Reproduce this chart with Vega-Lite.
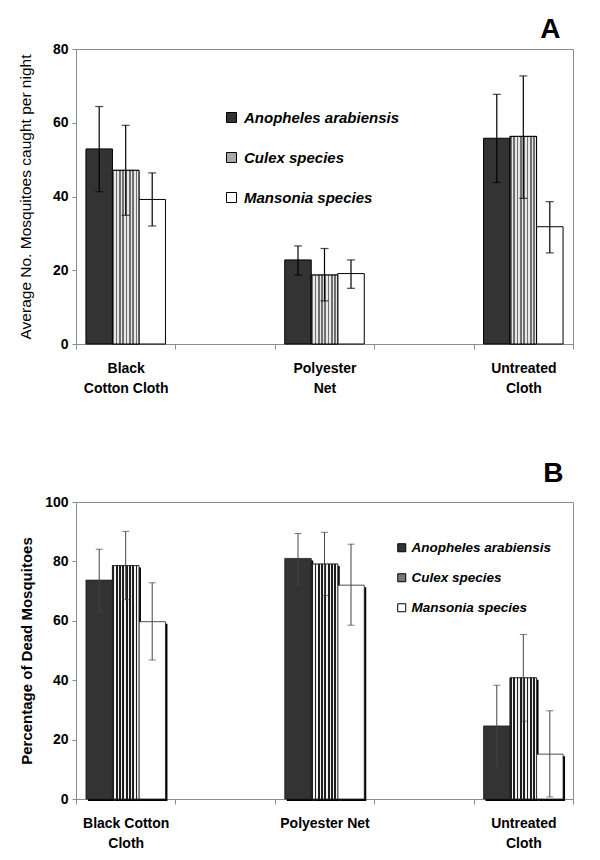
{
  "$schema": "https://vega.github.io/schema/vega-lite/v6.json",
  "background": "white",
  "padding": {"left": 17, "top": 15, "right": 5, "bottom": 5},
  "config": {
    "font": "Liberation Sans",
    "view": {"stroke": "#8c8c8c", "strokeWidth": 1},
    "axis": {"domainColor": "#8c8c8c", "tickColor": "#8c8c8c", "grid": false, "labelFont": "Liberation Sans", "labelFontWeight": "bold", "labelFontSize": 14, "labelColor": "black", "titleColor": "black", "titleFont": "Liberation Sans"},
    "title": {"fontSize": 28, "fontWeight": "bold", "anchor": "end", "color": "black", "font": "Liberation Sans"}
  },
  "datasets": {
    "a": [
      {"cloth": "Black Cotton Cloth", "species": "Anopheles arabiensis", "mean": 52.9, "lo": 41.3, "hi": 64.4},
      {"cloth": "Black Cotton Cloth", "species": "Culex species", "mean": 47.1, "lo": 34.9, "hi": 59.3},
      {"cloth": "Black Cotton Cloth", "species": "Mansonia species", "mean": 39.2, "lo": 32.0, "hi": 46.4},
      {"cloth": "Polyester Net", "species": "Anopheles arabiensis", "mean": 22.8, "lo": 18.7, "hi": 26.6},
      {"cloth": "Polyester Net", "species": "Culex species", "mean": 18.7, "lo": 11.7, "hi": 25.9},
      {"cloth": "Polyester Net", "species": "Mansonia species", "mean": 19.1, "lo": 15.1, "hi": 22.8},
      {"cloth": "Untreated Cloth", "species": "Anopheles arabiensis", "mean": 55.8, "lo": 43.8, "hi": 67.7},
      {"cloth": "Untreated Cloth", "species": "Culex species", "mean": 56.3, "lo": 39.5, "hi": 72.7},
      {"cloth": "Untreated Cloth", "species": "Mansonia species", "mean": 31.8, "lo": 24.7, "hi": 38.6}
    ],
    "b": [
      {"cloth": "Black Cotton Cloth", "species": "Anopheles arabiensis", "mean": 73.7, "lo": 63.0, "hi": 84.1},
      {"cloth": "Black Cotton Cloth", "species": "Culex species", "mean": 78.6, "lo": 67.1, "hi": 90.1},
      {"cloth": "Black Cotton Cloth", "species": "Mansonia species", "mean": 59.7, "lo": 46.8, "hi": 72.8},
      {"cloth": "Polyester Net", "species": "Anopheles arabiensis", "mean": 81.0, "lo": 72.0, "hi": 89.4},
      {"cloth": "Polyester Net", "species": "Culex species", "mean": 79.1, "lo": 68.5, "hi": 89.8},
      {"cloth": "Polyester Net", "species": "Mansonia species", "mean": 72.0, "lo": 58.5, "hi": 85.8},
      {"cloth": "Untreated Cloth", "species": "Anopheles arabiensis", "mean": 24.6, "lo": 11.0, "hi": 38.3},
      {"cloth": "Untreated Cloth", "species": "Culex species", "mean": 40.8, "lo": 26.2, "hi": 55.4},
      {"cloth": "Untreated Cloth", "species": "Mansonia species", "mean": 15.1, "lo": 0.7, "hi": 29.7}
    ]
  },
  "columns": 1,
  "spacing": 63,
  "resolve": {"scale": {"fill": "independent"}, "legend": {"fill": "independent"}},
  "concat": [
    {
      "width": 497,
      "height": 295,
      "title": {"text": "A", "dx": -13, "offset": -2},
      "data": {"name": "a"},
      "encoding": {
        "x": {"field": "cloth", "type": "nominal", "scale": {"domain": ["Black Cotton Cloth", "gap1", "Polyester Net", "gap2", "Untreated Cloth"], "paddingInner": 0, "paddingOuter": 0},
          "axis": {"title": null, "labelAngle": 0, "tickBand": "extent", "tickSize": 5, "labelPadding": 12, "labelLineHeight": 20,
            "labelExpr": "datum.value == 'Black Cotton Cloth' ? ['Black', 'Cotton Cloth'] : datum.value == 'Polyester Net' ? ['Polyester', 'Net'] : datum.value == 'Untreated Cloth' ? ['Untreated', 'Cloth'] : ''"}},
        "xOffset": {"field": "species", "type": "nominal", "scale": {"domain": ["Anopheles arabiensis", "Culex species", "Mansonia species"], "paddingInner": 0, "paddingOuter": 0.375}}
      },
      "layer": [
        {
          "mark": {"type": "bar", "stroke": "black", "strokeWidth": 1},
          "encoding": {
            "y": {"field": "mean", "type": "quantitative", "title": "Average No. Mosquitoes caught  per night", "scale": {"domain": [0, 80]},
              "axis": {"values": [0, 20, 40, 60, 80], "tickSize": 4, "labelPadding": 4, "titlePadding": 19, "titleFontSize": 15.5, "titleFontWeight": "normal"}},
            "fill": {"field": "species", "type": "nominal",
              "scale": {"domain": ["Anopheles arabiensis", "Culex species", "Mansonia species"], "range": ["#333333", "#a8a8a8", "#ffffff"]},
              "legend": {"title": null, "orient": "none", "legendX": 148, "legendY": 61, "symbolType": "square", "symbolSize": 100, "symbolStrokeColor": "black", "symbolStrokeWidth": 1, "symbolOpacity": 1, "labelFontSize": 15, "labelFontStyle": "italic", "labelFontWeight": "bold", "labelColor": "black", "labelOffset": 5, "rowPadding": 24, "labelLimit": 300}}
          }
        },
        {
          "transform": [{"filter": "datum.species == 'Culex species'"}],
          "mark": {"type": "bar", "stroke": "black", "strokeWidth": 1,
            "fill": {"gradient": "linear", "x1": 0, "y1": 0, "x2": 1, "y2": 0, "stops": [
              {"offset": 0, "color": "#707070"}, {"offset": 0.0625, "color": "#707070"}, {"offset": 0.0625, "color": "#e6e6e6"}, {"offset": 0.125, "color": "#e6e6e6"},
              {"offset": 0.125, "color": "#707070"}, {"offset": 0.1875, "color": "#707070"}, {"offset": 0.1875, "color": "#e6e6e6"}, {"offset": 0.25, "color": "#e6e6e6"},
              {"offset": 0.25, "color": "#707070"}, {"offset": 0.3125, "color": "#707070"}, {"offset": 0.3125, "color": "#e6e6e6"}, {"offset": 0.375, "color": "#e6e6e6"},
              {"offset": 0.375, "color": "#707070"}, {"offset": 0.4375, "color": "#707070"}, {"offset": 0.4375, "color": "#e6e6e6"}, {"offset": 0.5, "color": "#e6e6e6"},
              {"offset": 0.5, "color": "#707070"}, {"offset": 0.5625, "color": "#707070"}, {"offset": 0.5625, "color": "#e6e6e6"}, {"offset": 0.625, "color": "#e6e6e6"},
              {"offset": 0.625, "color": "#707070"}, {"offset": 0.6875, "color": "#707070"}, {"offset": 0.6875, "color": "#e6e6e6"}, {"offset": 0.75, "color": "#e6e6e6"},
              {"offset": 0.75, "color": "#707070"}, {"offset": 0.8125, "color": "#707070"}, {"offset": 0.8125, "color": "#e6e6e6"}, {"offset": 0.875, "color": "#e6e6e6"},
              {"offset": 0.875, "color": "#707070"}, {"offset": 0.9375, "color": "#707070"}, {"offset": 0.9375, "color": "#e6e6e6"}, {"offset": 1, "color": "#e6e6e6"}]}},
          "encoding": {"y": {"field": "mean", "type": "quantitative", "title": "Average No. Mosquitoes caught  per night"}}
        },
        {
          "mark": {"type": "rule", "color": "black", "strokeWidth": 1.2},
          "encoding": {"y": {"field": "lo", "type": "quantitative", "title": "Average No. Mosquitoes caught  per night"}, "y2": {"field": "hi"}}
        },
        {
          "mark": {"type": "tick", "color": "black", "thickness": 1.2, "size": 8},
          "encoding": {"y": {"field": "lo", "type": "quantitative", "title": "Average No. Mosquitoes caught  per night"}}
        },
        {
          "mark": {"type": "tick", "color": "black", "thickness": 1.2, "size": 8},
          "encoding": {"y": {"field": "hi", "type": "quantitative", "title": "Average No. Mosquitoes caught  per night"}}
        }
      ]
    },
    {
      "width": 497,
      "height": 297,
      "title": {"text": "B", "dx": -10, "offset": 7},
      "data": {"name": "b"},
      "encoding": {
        "x": {"field": "cloth", "type": "nominal", "scale": {"domain": ["Black Cotton Cloth", "gap1", "Polyester Net", "gap2", "Untreated Cloth"], "paddingInner": 0, "paddingOuter": 0},
          "axis": {"title": null, "labelAngle": 0, "tickBand": "extent", "tickSize": 5, "labelPadding": 12, "labelLineHeight": 20,
            "labelExpr": "datum.value == 'Black Cotton Cloth' ? ['Black Cotton', 'Cloth'] : datum.value == 'Polyester Net' ? 'Polyester Net' : datum.value == 'Untreated Cloth' ? ['Untreated', 'Cloth'] : ''"}}
      },
      "resolve": {"scale": {"xOffset": "independent"}},
      "layer": [
        {
          "mark": {"type": "bar", "fill": "black", "yOffset": 2, "y2Offset": 0},
          "encoding": {
            "xOffset": {"field": "species", "type": "nominal", "scale": {"domain": ["Anopheles arabiensis", "Culex species", "Mansonia species"], "paddingInner": 0, "paddingOuter": 0.375, "align": 0.6}},
            "y": {"field": "mean", "type": "quantitative", "title": "Percentage of Dead Mosquitoes", "scale": {"domain": [0, 100]},
              "axis": {"values": [0, 20, 40, 60, 80, 100], "tickSize": 4, "labelPadding": 4, "titlePadding": 10, "titleFontSize": 15, "titleFontWeight": "bold"}}
          }
        },
        {
          "encoding": {
            "xOffset": {"field": "species", "type": "nominal", "scale": {"domain": ["Anopheles arabiensis", "Culex species", "Mansonia species"], "paddingInner": 0, "paddingOuter": 0.375}}
          },
          "layer": [
            {
              "mark": {"type": "bar", "stroke": "#222222", "strokeWidth": 0.8},
              "encoding": {
                "y": {"field": "mean", "type": "quantitative", "title": "Percentage of Dead Mosquitoes"},
                "fill": {"field": "species", "type": "nominal",
                  "scale": {"domain": ["Anopheles arabiensis", "Culex species", "Mansonia species"], "range": ["#333333", "#777777", "#ffffff"]},
                  "legend": {"title": null, "orient": "none", "legendX": 319, "legendY": 39, "symbolType": "square", "symbolSize": 64, "symbolStrokeColor": "black", "symbolStrokeWidth": 1, "symbolOpacity": 1, "labelFontSize": 13.5, "labelFontStyle": "italic", "labelFontWeight": "bold", "labelColor": "black", "labelOffset": 3, "rowPadding": 15, "labelLimit": 300}}
              }
            },
            {
              "transform": [{"filter": "datum.species == 'Culex species'"}],
              "mark": {"type": "bar", "stroke": "#222222", "strokeWidth": 0.8,
                "fill": {"gradient": "linear", "x1": 0, "y1": 0, "x2": 1, "y2": 0, "stops": [
                  {"offset": 0, "color": "#1e1e1e"}, {"offset": 0.06875, "color": "#1e1e1e"}, {"offset": 0.06875, "color": "#f2f2f2"}, {"offset": 0.125, "color": "#f2f2f2"},
                  {"offset": 0.125, "color": "#1e1e1e"}, {"offset": 0.19375, "color": "#1e1e1e"}, {"offset": 0.19375, "color": "#f2f2f2"}, {"offset": 0.25, "color": "#f2f2f2"},
                  {"offset": 0.25, "color": "#1e1e1e"}, {"offset": 0.31875, "color": "#1e1e1e"}, {"offset": 0.31875, "color": "#f2f2f2"}, {"offset": 0.375, "color": "#f2f2f2"},
                  {"offset": 0.375, "color": "#1e1e1e"}, {"offset": 0.44375, "color": "#1e1e1e"}, {"offset": 0.44375, "color": "#f2f2f2"}, {"offset": 0.5, "color": "#f2f2f2"},
                  {"offset": 0.5, "color": "#1e1e1e"}, {"offset": 0.56875, "color": "#1e1e1e"}, {"offset": 0.56875, "color": "#f2f2f2"}, {"offset": 0.625, "color": "#f2f2f2"},
                  {"offset": 0.625, "color": "#1e1e1e"}, {"offset": 0.69375, "color": "#1e1e1e"}, {"offset": 0.69375, "color": "#f2f2f2"}, {"offset": 0.75, "color": "#f2f2f2"},
                  {"offset": 0.75, "color": "#1e1e1e"}, {"offset": 0.81875, "color": "#1e1e1e"}, {"offset": 0.81875, "color": "#f2f2f2"}, {"offset": 0.875, "color": "#f2f2f2"},
                  {"offset": 0.875, "color": "#1e1e1e"}, {"offset": 0.94375, "color": "#1e1e1e"}, {"offset": 0.94375, "color": "#f2f2f2"}, {"offset": 1, "color": "#f2f2f2"}]}},
              "encoding": {"y": {"field": "mean", "type": "quantitative", "title": "Percentage of Dead Mosquitoes"}}
            },
            {
              "mark": {"type": "rule", "color": "#444444", "strokeWidth": 1},
              "encoding": {"y": {"field": "lo", "type": "quantitative", "title": "Percentage of Dead Mosquitoes"}, "y2": {"field": "hi"}}
            },
            {
              "mark": {"type": "tick", "color": "#444444", "thickness": 1, "size": 7},
              "encoding": {"y": {"field": "lo", "type": "quantitative", "title": "Percentage of Dead Mosquitoes"}}
            },
            {
              "mark": {"type": "tick", "color": "#444444", "thickness": 1, "size": 7},
              "encoding": {"y": {"field": "hi", "type": "quantitative", "title": "Percentage of Dead Mosquitoes"}}
            }
          ]
        }
      ]
    }
  ]
}
